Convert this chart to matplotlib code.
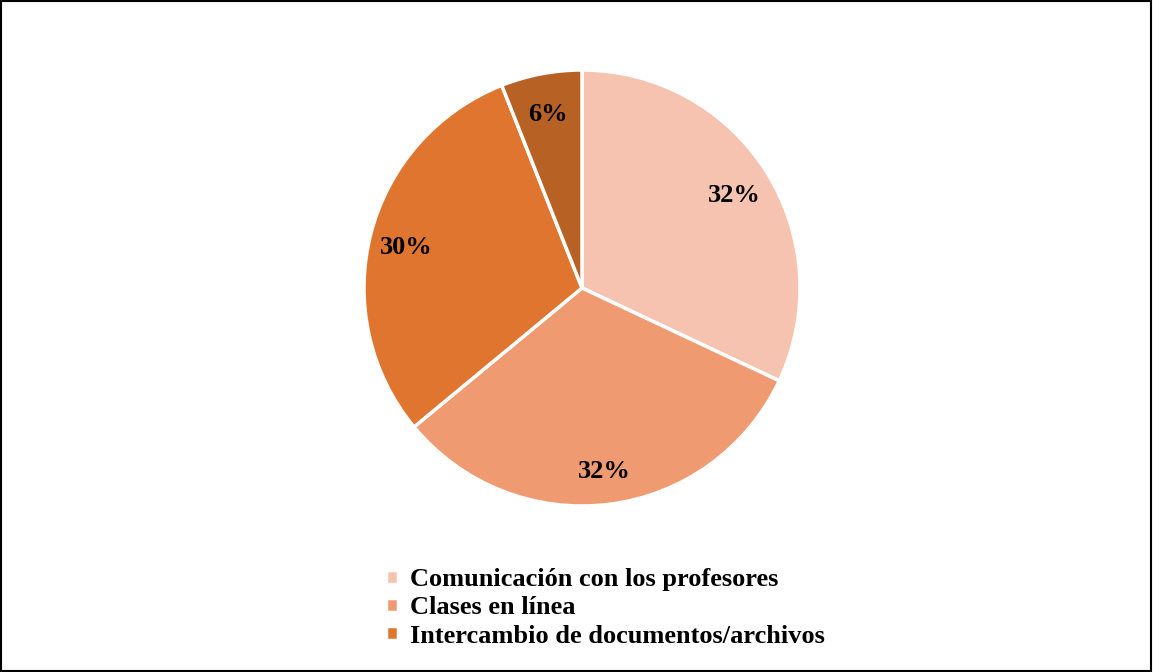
import matplotlib.pyplot as plt
from matplotlib.patches import Rectangle

# data
labels = ['Comunicación con los profesores', 'Clases en línea',
          'Intercambio de documentos/archivos', 'Otros']
values = [32, 32, 30, 6]
colors = ['#F5C3B0', '#F09A72', '#E0752F', '#B86125']

plt.rcParams['font.family'] = ['Liberation Serif', 'DejaVu Serif']

fig = plt.figure(figsize=(11.53, 6.72), dpi=100)
ax = fig.add_axes([364 / 1153, 166 / 672, 436 / 1153, 436 / 672])

wedges, texts, autotexts = ax.pie(
    values, colors=colors, startangle=90, counterclock=False,
    autopct='%1.0f%%', pctdistance=0.83, radius=1,
    wedgeprops=dict(edgecolor='white', linewidth=2.5),
    textprops=dict(fontsize=19, fontweight='bold', color='black'))
# nudge the labels a bit lower, like the original
for t in autotexts:
    x, y = t.get_position()
    t.set_position((x, y - 0.02))
ax.set_xlim(-1, 1)
ax.set_ylim(-1, 1)
ax.set_aspect('equal')

# legend shows only the first three categories
fig.legend(wedges[:3], labels[:3], loc='upper left',
           bbox_to_anchor=(386 / 1153, 1 - 568 / 672),
           frameon=False, prop=dict(size=19, weight='bold'),
           handlelength=0.45, handleheight=0.45, handletextpad=0.45,
           labelspacing=0.2, borderaxespad=0, borderpad=0)

# outer frame
fig.patches.append(Rectangle((0.001, 0.001), 0.997, 0.997, transform=fig.transFigure,
                             fill=False, edgecolor='black', linewidth=1.5))

fig.savefig('out.png', dpi=100)
